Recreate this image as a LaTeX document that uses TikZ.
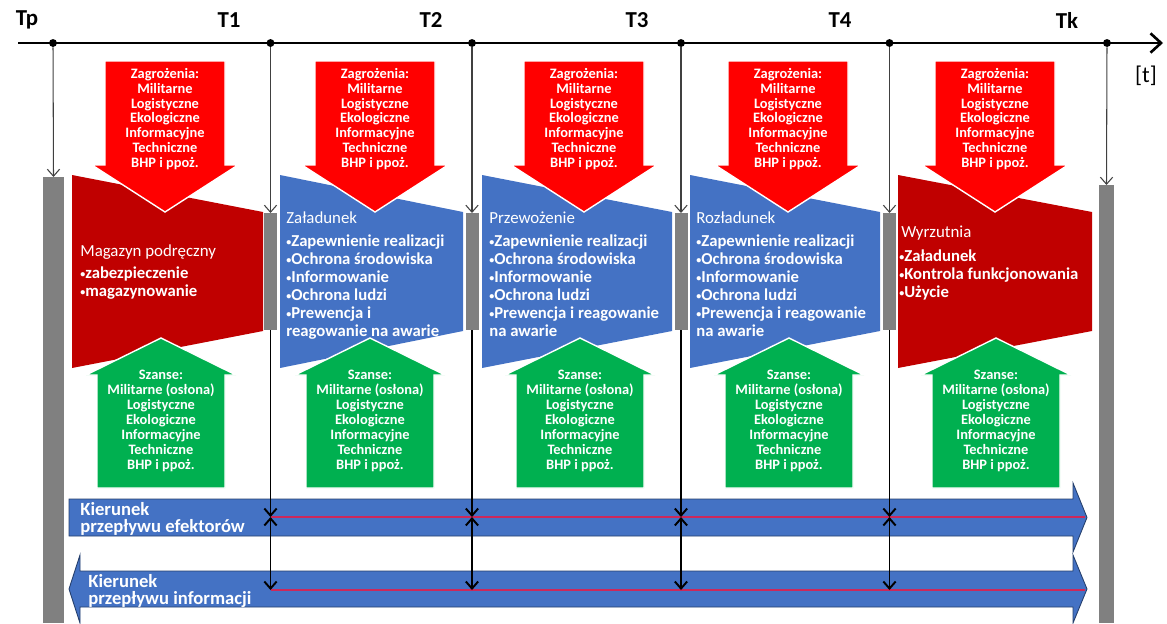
\documentclass[tikz,border=0pt]{standalone}
\usepackage{fontspec}
\setmainfont{Carlito}
\usetikzlibrary{arrows.meta}
\definecolor{zred}{RGB}{255,0,0}
\definecolor{dred}{RGB}{192,0,0}
\definecolor{sblue}{RGB}{68,114,196}
\definecolor{sgreen}{RGB}{0,176,80}
\definecolor{sgray}{RGB}{128,128,128}
\definecolor{fline}{RGB}{205,40,90}
\tikzstyle{axis}=[draw=black, line width=1.5pt, -{Straight Barb[length=6pt,width=11pt]}]
\tikzstyle{tick}=[circle, fill=black, inner sep=0pt, minimum size=4.5pt]
\tikzstyle{lbl}=[font=\bfseries\fontsize{13}{15}\selectfont]
\tikzstyle{threat}=[fill=zred, draw=white, line width=0.8pt]
\tikzstyle{chance}=[fill=sgreen, draw=white, line width=0.8pt]
\tikzstyle{arrtxt}=[text=white, align=center, inner sep=0pt, font=\bfseries\fontsize{8.2}{8.5}\selectfont]
\tikzstyle{stagetitle}=[text=white, anchor=west, inner sep=0pt, font=\fontsize{9.6}{10.3}\selectfont]
\tikzstyle{stagelist}=[text=white, align=left, anchor=north west, inner sep=0pt, font=\bfseries\fontsize{9.5}{10.3}\selectfont]
\tikzstyle{bar}=[fill=sgray]
\tikzstyle{feed}=[draw=black!75, line width=0.6pt, -{Straight Barb[length=4pt,width=7pt]}]
\tikzstyle{link}=[draw=black, line width=1.1pt, -{Straight Barb[length=4pt,width=7pt]}]
\tikzstyle{flow}=[fill=sblue, draw=sblue!55!black, line width=0.5pt]
\tikzstyle{flowtxt}=[text=white, align=left, anchor=west, inner sep=0pt, font=\bfseries\fontsize{10.6}{9.8}\selectfont]
\tikzstyle{redline}=[draw=fline, line width=0.9pt]
\newcommand{\bul}{\raisebox{0.12ex}{\scalebox{0.6}{\textbullet}}}
\begin{document}
\begin{tikzpicture}[x=0.02cm,y=-0.02cm]
\useasboundingbox (0,0) rectangle (1167,623);

% time axis
\draw[axis] (18,43) -- (1163,43);
\node[tick] (tp) at (53,43) {};
\node[tick] (tk) at (1107,43) {};
\foreach \n/\x in {1/270.5,2/472,3/681,4/889.5} {
    \node[tick] (t\n) at (\x,43) {};
}
\node[lbl] (ltp) at (27,20) {Tp};
\foreach \n/\x in {1/229,2/431,3/637,4/840} {
    \node[lbl] (lt\n) at (\x,20) {T\n};
}
\node[lbl] (ltk) at (1067,20) {Tk};
\node[font=\fontsize{13}{15}\selectfont] (unit) at (1146,76) {[t]};

% stages
\fill[dred] (72,175) -- (263,212) -- (263,331) -- (72,368) -- cycle;
\foreach \l/\r in {280/463,482/672,690/880} {
    \fill[sblue] (\l,175) -- (\r,212) -- (\r,331) -- (\l,368) -- cycle;
}
\fill[dred] (898,175) -- (1092,212) -- (1092,331) -- (898,368) -- cycle;

% gray bars
\fill[bar] (43,177) rectangle (64,623);
\coordinate (btp) at (53.5,177);
\fill[bar] (1099,185) rectangle (1114,623);
\coordinate (btk) at (1106.5,185);
\foreach \n/\x in {1/270.5,2/472,3/681,4/889.5} {
    \fill[bar] (\x-6.5,213) rectangle (\x+6.5,330);
    \coordinate (b\n) at (\x,213);
    \coordinate (s\n) at (\x,330);
    \coordinate (u\n) at (\x,517);
    \coordinate (d\n) at (\x,590);
}

\draw[feed] (tp) -- (btp);
\draw[feed] (tk) -- (btk);
\foreach \n in {1,...,4} {
    \draw[feed] (t\n) -- (b\n);
}

% threats
\foreach \c in {165,375,584,788,995} {
    \draw[threat] (\c-60,61) -- (\c+60,61) -- (\c+60,165) -- (\c+73,165) -- (\c,212) -- (\c-73,165) -- (\c-60,165) -- cycle;
    \node[arrtxt] (z\c) at (\c,119) {Zagrożenia:\\Militarne\\Logistyczne\\Ekologiczne\\Informacyjne\\Techniczne\\BHP i ppoż.};
}

% chances
\foreach \c in {161,370,580,789,996} {
    \draw[chance] (\c,338) -- (\c+75,375) -- (\c+64,375) -- (\c+64,488) -- (\c-64,488) -- (\c-64,375) -- (\c-75,375) -- cycle;
    \node[arrtxt] (c\c) at (\c,421) {Szanse:\\Militarne (osłona)\\Logistyczne\\Ekologiczne\\Informacyjne\\Techniczne\\BHP i ppoż.};
}

% stage texts
\node[stagetitle] (mag) at (80,252) {Magazyn podręczny};
\node[stagelist] (magl) at (80,266) {\bul zabezpieczenie\\\bul magazynowanie};
\node[stagetitle] (zal) at (286,218) {Załadunek};
\node[stagelist] (zall) at (286,234) {\bul Zapewnienie realizacji\\\bul Ochrona środowiska\\\bul Informowanie\\\bul Ochrona ludzi\\\bul Prewencja i\\reagowanie na awarie};
\node[stagetitle] (prz) at (489,218) {Przewożenie};
\node[stagelist] (przl) at (489,234) {\bul Zapewnienie realizacji\\\bul Ochrona środowiska\\\bul Informowanie\\\bul Ochrona ludzi\\\bul Prewencja i reagowanie\\na awarie};
\node[stagetitle] (roz) at (696,218) {Rozładunek};
\node[stagelist] (rozl) at (696,234) {\bul Zapewnienie realizacji\\\bul Ochrona środowiska\\\bul Informowanie\\\bul Ochrona ludzi\\\bul Prewencja i reagowanie\\na awarie};
\node[stagetitle] (wyr) at (901,233) {Wyrzutnia};
\node[stagelist] (wyrl) at (899,249) {\bul Załadunek\\\bul Kontrola funkcjonowania\\\bul Użycie};

% flows
\draw[flow] (69,499) -- (1073,499) -- (1073,483) -- (1087,517.5) -- (1073,552) -- (1073,536) -- (69,536) -- cycle;
\draw[flow] (69,589) -- (80,555) -- (80,571) -- (1073,571) -- (1073,555) -- (1087,589) -- (1073,623) -- (1073,607) -- (80,607) -- (80,623) -- cycle;
\coordinate (fe) at (1085,517);
\coordinate (fi) at (1085,590);
\draw[redline] (u1) -- (fe);
\draw[redline] (d1) -- (fi);
\node[flowtxt] (efk) at (80,519) {Kierunek\\przepływu efektorów};
\node[flowtxt] (inf) at (88,591) {Kierunek\\przepływu informacji};

\foreach \n in {1,...,4} {
    \draw[link] (s\n) -- (u\n);
    \draw[link, {Straight Barb[length=4pt,width=7pt]}-{Straight Barb[length=4pt,width=7pt]}] (u\n) -- (d\n);
}
\end{tikzpicture}
\end{document}
